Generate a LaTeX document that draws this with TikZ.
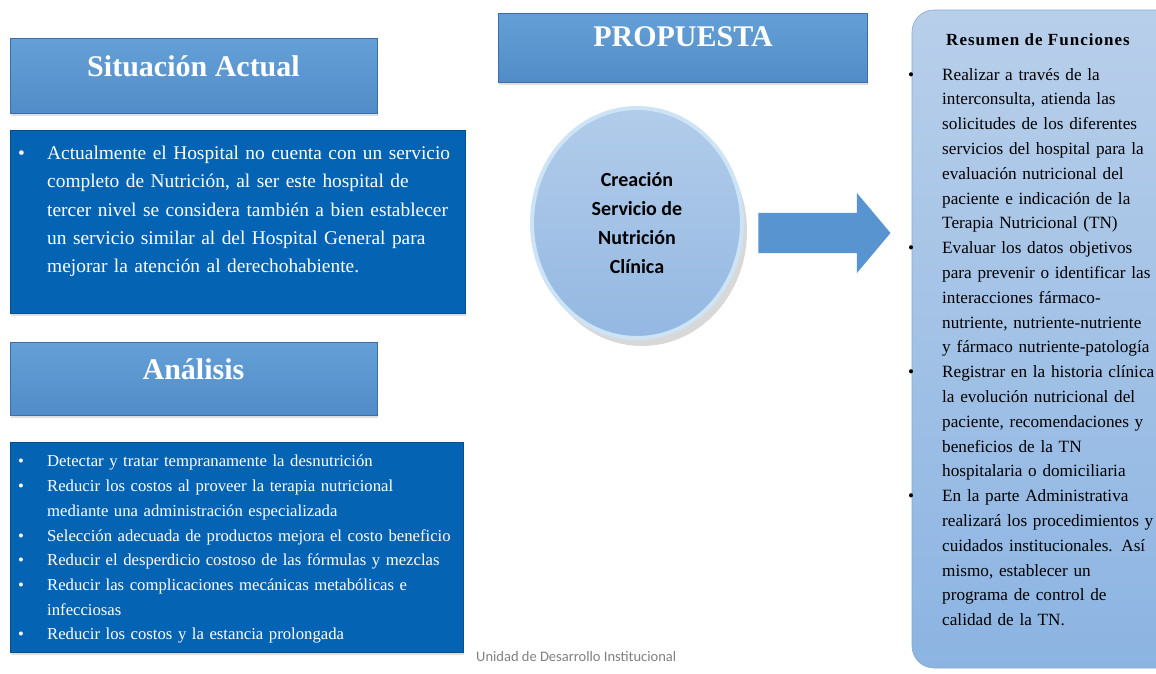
\documentclass[tikz,border=0pt]{standalone}
\usepackage{fontspec}
\setmainfont{Liberation Serif}
\newfontfamily\calibri{Carlito}
\usetikzlibrary{shapes.geometric,shapes.arrows,shadows}

\definecolor{headtop}{RGB}{100,160,215}
\definecolor{headbot}{RGB}{82,140,200}
\definecolor{headedge}{RGB}{60,110,170}
\definecolor{bodyblue}{RGB}{5,99,180}
\definecolor{circtop}{RGB}{178,204,234}
\definecolor{circbot}{RGB}{148,184,226}
\definecolor{glow}{RGB}{205,228,246}
\definecolor{restop}{RGB}{184,207,234}
\definecolor{resbot}{RGB}{140,180,226}
\definecolor{arrowblue}{RGB}{88,148,208}

\newcommand{\itembul}[1]{\par\noindent\hangindent=#1\hangafter=1\makebox[#1][l]{\textbullet}}

\begin{document}
\begin{tikzpicture}[x=1pt,y=-1pt,
	head/.style={rectangle,top color=headtop,bottom color=headbot,draw=headedge,line width=0.6pt,
		drop shadow={shadow xshift=1pt,shadow yshift=-3pt,opacity=0.25}},
	headtext/.style={text=white,font=\bfseries\fontsize{30}{34}\selectfont,inner sep=0pt},
	body/.style={rectangle,fill=bodyblue,draw=bodyblue!80!black,line width=0.6pt,
		drop shadow={shadow xshift=1pt,shadow yshift=-3pt,opacity=0.25}},
	bodytext/.style={text=white,anchor=north west,align=left,inner sep=0pt}]
	
	\fill[white] (0,0) rectangle (1156,673);
	\useasboundingbox (0,0) rectangle (1156,673);
	
	% situacion actual
	\node[head,minimum width=367,minimum height=75] (sithead) at (193.5,75.5) {};
	\node[headtext] (sittitle) at (193.5,66) {Situación Actual};
	\node[body,minimum width=455,minimum height=183] (sitbox) at (237.5,221.5) {};
	\node[bodytext,text width=440,font=\fontsize{19.4}{28.3}\selectfont] (sittext) at (18,131) {%
		\itembul{29pt}Actualmente el Hospital no cuenta con un servicio\newline
		completo de Nutrición, al ser este hospital de\newline
		tercer nivel se considera también a bien establecer\newline
		un servicio similar al del Hospital General para\newline
		mejorar la atención al derechohabiente.\par};
	
	% analisis
	\node[head,minimum width=367,minimum height=73] (anahead) at (193.5,378.5) {};
	\node[headtext] (anatitle) at (193.5,369) {Análisis};
	\node[body,minimum width=453,minimum height=210] (anabox) at (236.5,547) {};
	\node[bodytext,text width=440,font=\fontsize{16.7}{24.7}\selectfont] (anatext) at (18,442) {%
		\itembul{29pt}Detectar y tratar tempranamente la desnutrición
		\itembul{29pt}Reducir los costos al proveer la terapia nutricional\newline
		mediante una administración especializada
		\itembul{29pt}Selección adecuada de productos mejora el costo beneficio
		\itembul{29pt}Reducir el desperdicio costoso de las fórmulas y mezclas
		\itembul{29pt}Reducir las complicaciones mecánicas metabólicas e\newline
		infecciosas
		\itembul{29pt}Reducir los costos y la estancia prolongada\par};
	
	% propuesta
	\node[head,minimum width=369,minimum height=69] (prophead) at (682.5,47.5) {};
	\node[headtext] (proptitle) at (683,37) {PROPUESTA};
	\node[ellipse,minimum width=210,minimum height=230,top color=circtop,bottom color=circbot,
		draw=glow,line width=4pt,align=center,font=\calibri\bfseries\fontsize{20}{29}\selectfont,
		drop shadow={shadow xshift=5pt,shadow yshift=-8pt,opacity=0.3}] (circ) at (637,223)
		{Creación\\Servicio de\\Nutrición\\Clínica};
	\node[single arrow,fill=arrowblue,inner sep=0pt,minimum height=132,minimum width=80,
		single arrow head extend=20,single arrow tip angle=100,text height=40pt] (arrow) at (816,233) {};
	
	% resumen de funciones
	\draw[top color=restop,bottom color=resbot,draw=headedge!60,line width=0.6pt,rounded corners=22]
		(912,10) rectangle (1185,668);
	\node[text=black,font=\bfseries\fontsize{17}{20}\selectfont\addfontfeature{LetterSpace=6},inner sep=0pt] (restitle) at (1038,40) {Resumen de Funciones};
	\node[anchor=north west,align=left,inner sep=0pt,text width=250,font=\fontsize{17.2}{24.8}\selectfont] (restext) at (908,55) {%
		\itembul{34pt}Realizar a través de la\newline
		interconsulta, atienda las\newline
		solicitudes de los diferentes\newline
		servicios del hospital para la\newline
		evaluación nutricional del\newline
		paciente e indicación de la\newline
		Terapia Nutricional (TN)
		\itembul{34pt}Evaluar los datos objetivos\newline
		para prevenir o identificar las\newline
		interacciones fármaco-\newline
		nutriente, nutriente-nutriente\newline
		y fármaco nutriente-patología
		\itembul{34pt}Registrar en la historia clínica\newline
		la evolución nutricional del\newline
		paciente, recomendaciones y\newline
		beneficios de la TN\newline
		hospitalaria o domiciliaria
		\itembul{34pt}En la parte Administrativa\newline
		realizará los procedimientos y\newline
		cuidados institucionales. Así\newline
		mismo, establecer un\newline
		programa de control de\newline
		calidad de la TN.\par};
	
	\node[text=gray,font=\calibri\fontsize{14.5}{16}\selectfont,anchor=west,inner sep=0pt] (footer) at (476,657) {Unidad de Desarrollo Institucional};
	
\end{tikzpicture}
\end{document}
